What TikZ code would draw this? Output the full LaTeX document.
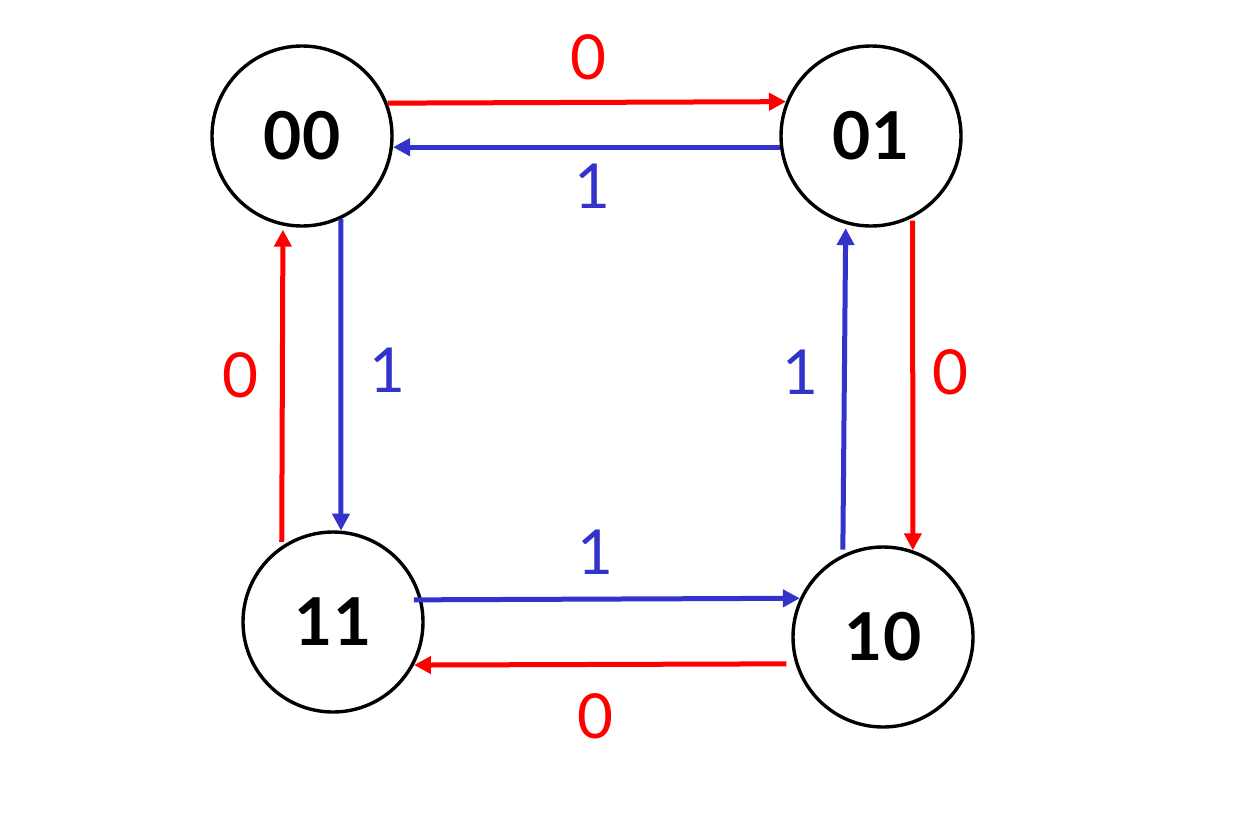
\documentclass[tikz,border=0pt]{standalone}
\usepackage{fontspec}
\setmainfont{Lato}
\usetikzlibrary{arrows.meta}
\definecolor{rd}{RGB}{255,0,0}
\definecolor{bl}{RGB}{51,51,204}
\tikzset{
  state/.style={circle,draw=black,line width=3.4pt,minimum size=180pt,inner sep=0pt,
    font=\fontsize{66}{70}\selectfont\bfseries},
  redarr/.style={draw=rd,line width=5pt,-{Triangle[length=17pt,width=17pt]}},
  bluarr/.style={draw=bl,line width=5pt,-{Triangle[length=17pt,width=17pt]}},
  redlab/.style={text=rd,font=\fontsize{62}{66}\selectfont,inner sep=0pt},
  blulab/.style={text=bl,font=\fontsize{62}{66}\selectfont,inner sep=0pt},
}
\begin{document}
\begin{tikzpicture}[x=1pt,y=-1pt]
\useasboundingbox (0,0) rectangle (1238,830);
\node[state] (n00) at (302,136) {00};
\node[state] (n01) at (871,136) {01};
\node[state] (n11) at (333,622) {11};
\node[state] (n10) at (883,637) {10};
% horizontal top
\draw[redarr] (n00.21.9) -- (n01.158.1);
\draw[bluarr] (n01.187.6) -- (n00.-7.6);
% left side
\draw[bluarr] (n00.-65.3) -- (n11.85.6);
\draw[redarr,shorten <=4pt,shorten >=4pt] (n11.124.4) -- (n00.258);
% right side
\draw[redarr,shorten <=3pt] (n01.-63.4) -- (n10.71.8);
\draw[bluarr,shorten <=5pt,shorten >=4pt] (n10.116.3) -- (n01.254.2);
% bottom
\draw[bluarr,shorten <=-8pt] (n11.14.6) -- (n10.155.3);
\draw[redarr,shorten <=9pt] (n10.197.9) -- (n11.-28.2);
% labels
\node[redlab] (l1) at (588,57) {0};
\node[blulab] (l2) at (592,186) {1};
\node[blulab] (l3) at (387,370) {1};
\node[redlab] (l4) at (240,375) {0};
\node[blulab] (l5) at (800,372) {1};
\node[redlab] (l6) at (950,372) {0};
\node[blulab] (l7) at (595,552) {1};
\node[redlab] (l8) at (595,716) {0};
\end{tikzpicture}
\end{document}
